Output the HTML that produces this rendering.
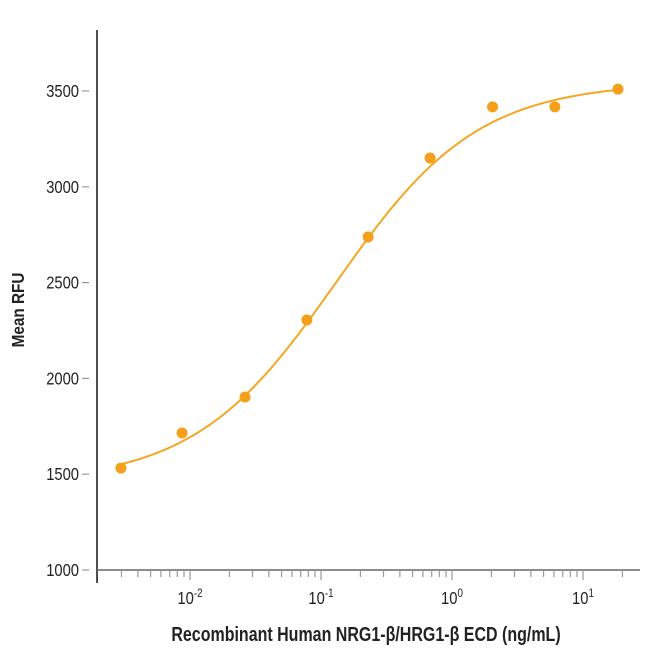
<!DOCTYPE html>
<html><head><meta charset="utf-8"><style>
html,body{margin:0;padding:0;background:#fff;}
svg{display:block;font-family:"Liberation Sans",sans-serif;}
</style></head><body>
<svg id="chart" width="650" height="650" viewBox="0 0 650 650">
<g id="axes"></g>
<g id="curve"></g>
<g id="pts"></g>
<text x="0" y="0" transform="translate(24,310) rotate(-90) scale(0.85,1)" text-anchor="middle" font-size="18" font-weight="bold" fill="#222">Mean RFU</text>
<text x="0" y="0" transform="translate(366,641) scale(0.8,1)" text-anchor="middle" font-size="20" font-weight="bold" fill="#222">Recombinant Human NRG1-β/HRG1-β ECD (ng/mL)</text>
</svg>
<script>
const concentrations=[0.00297,0.0087,0.0263,0.078,0.229,0.68,2.04,6.1,18.5];
const rfuValues=[1532,1715,1903,2305,2738,3150,3417,3417,3510];
const yTicks=[1000,1500,2000,2500,3000,3500];
const xDecades=[-2,-1,0,1];
const fitParams=[1455,3545,0.13,0.8]; // bottom, top, ec50, hill

const NS="http://www.w3.org/2000/svg";
const X0=97,X1=640,Y0=570,PXD=131;
function xs(v){return 190+(Math.log10(v)+2)*PXD;}
function ys(v){return 570-(v-1000)*95.8/500;}
function mk(t,a,p){const e=document.createElementNS(NS,t);for(const k in a)e.setAttribute(k,a[k]);p.appendChild(e);return e;}
const ax=document.getElementById('axes');
let l=mk('line',{x1:X0,y1:30,x2:X0,y2:583,stroke:'#222','stroke-width':1.6},ax);


l=mk('line',{x1:X0,y1:Y0,x2:X1,y2:Y0,stroke:'#666','stroke-width':1.6},ax);


yTicks.forEach(v=>{
 const y=ys(v);
 const t=mk('line',{x1:82,y1:y,x2:89,y2:y,stroke:'#999','stroke-width':1.2},ax);
 
 
 const tx=mk('text',{x:0,y:0,transform:`translate(79,${y+6}) scale(0.82,1)`,'text-anchor':'end','font-size':18,fill:'#222'},ax);
 tx.textContent=v;
 
 
});
for(let d=-3;d<=1;d++){for(let m=1;m<=9;m++){
 const v=m*Math.pow(10,d);const x=xs(v);
 if(x<X0+2||x>X1-5)continue;
 const t=mk('line',{x1:x,y1:Y0,x2:x,y2:m==1?580:577,stroke:'#999','stroke-width':1.2},ax);
 
 
}}
xDecades.forEach(d=>{
 const x=xs(Math.pow(10,d));
 const tx=mk('text',{x:0,y:0,transform:`translate(${x},604) scale(0.82,1)`,'text-anchor':'middle','font-size':18,fill:'#222'},ax);
 tx.innerHTML='10<tspan dy="-7" font-size="12">'+d+'</tspan>';
 
 
});
function fit(x){const [b,t,c,h]=fitParams;return b+(t-b)/(1+Math.pow(c/x,h));}
let d='';const c0=concentrations[0],c1=concentrations[concentrations.length-1];
for(let i=0;i<=200;i++){const lg=Math.log10(c0)+(Math.log10(c1)-Math.log10(c0))*i/200;const v=Math.pow(10,lg);d+=(i?'L':'M')+xs(v).toFixed(1)+','+ys(fit(v)).toFixed(1);}
const p=mk('path',{d:d,fill:'none',stroke:'#f5a623','stroke-width':2},document.getElementById('curve'));


const pg=document.getElementById('pts');
concentrations.forEach((c,i)=>{
 const e=mk('circle',{cx:xs(c),cy:ys(rfuValues[i]),r:5.5,fill:'#f5a01a'},pg);
 
 
});
</script>
</body></html>
